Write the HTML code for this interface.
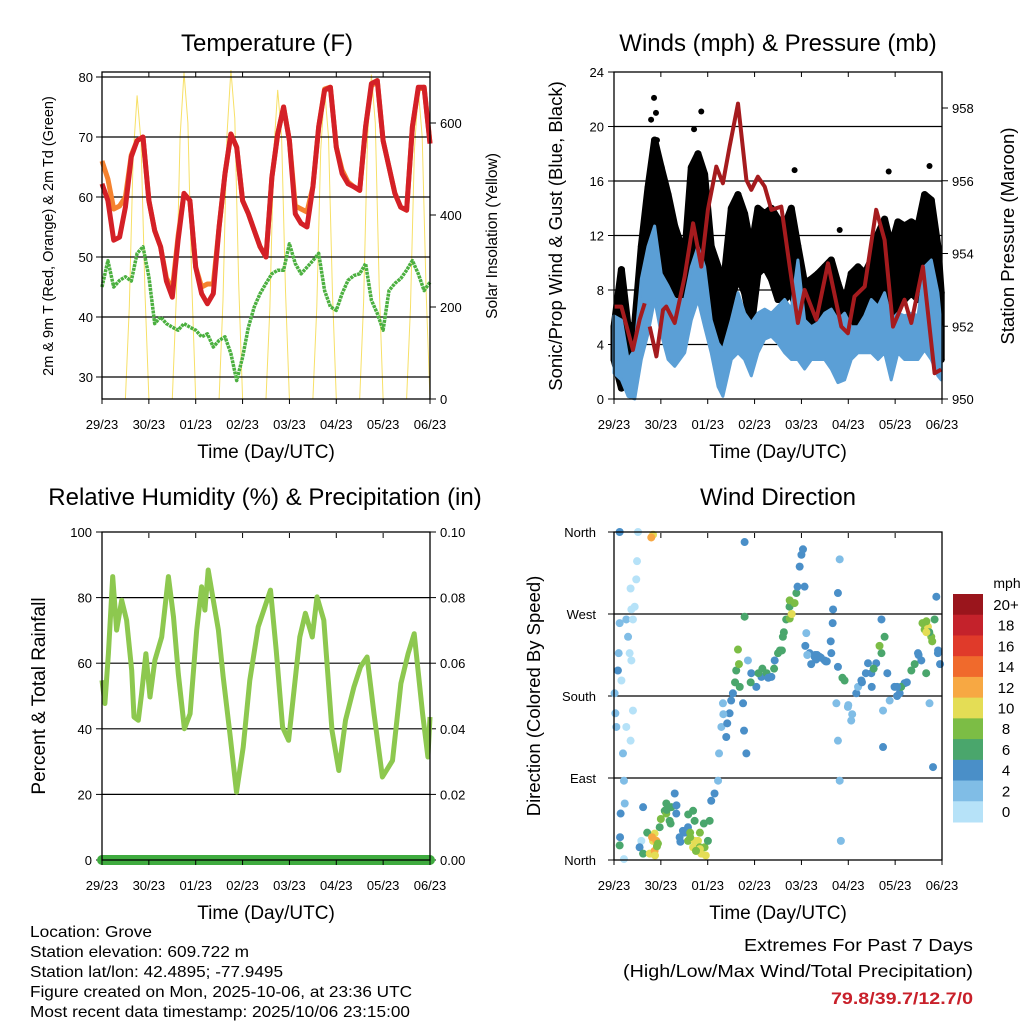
<!DOCTYPE html>
<html><head><meta charset="utf-8">
<style>
html,body{margin:0;padding:0;background:#fff;}
body{width:1024px;height:1024px;overflow:hidden;font-family:"Liberation Sans",sans-serif;}
svg text{font-family:"Liberation Sans",sans-serif;}
</style></head>
<body>
<svg id="root" width="1024" height="1024" viewBox="0 0 1024 1024" xmlns="http://www.w3.org/2000/svg"></svg>
<script>
// ---------- shared time axis ----------
const dayLabels = ["29/23","30/23","01/23","02/23","03/23","04/23","05/23","06/23"];

// ---------- temperature panel data (3-hourly, hours 0..168) ----------
const tempHours = [0,3,6,9,12,15,18,21,24,27,30,33,36,39,42,45,48,51,54,57,60,63,66,69,72,75,78,81,84,87,90,93,96,99,102,105,108,111,114,117,120,123,126,129,132,135,138,141,144,147,150,153,156,159,162,165,168];
const temp2m = [62.2,59.4,52.8,53.3,58.3,66.7,69.4,70,59.4,54.4,51.7,46,43.3,52.8,60.6,59.4,48.3,43.9,42.2,43.9,55,63.9,70.5,68.3,59.4,57.2,54.4,51.7,50,63.3,70.5,75,69.4,57.2,55.6,55,61.7,71.7,77.8,78.3,68.3,63.9,62.2,61.7,61.1,71.7,78.9,79.4,69.4,65,60.6,58.3,57.8,71.7,78.3,78.3,68.9];
const temp9m = [66,63,58,58.5,60,67,69.4,70,59.4,54.4,51.7,46.5,44.5,53.5,60.6,59.4,48.3,45,45.5,45.5,55,63.9,70.5,68.3,59.4,57.2,54.4,51.7,50,63.3,70.5,75,69.4,58.5,58,57.5,61.7,71.7,78,78.3,68.3,64.5,62.5,61.7,61.1,71.7,78.5,79.4,69.4,65,60.6,58.3,57.8,71.7,78,78.3,69];
const dewpoint = [45,49.4,45,46.1,46.7,46,50.6,51.7,46.7,38.9,40,38.9,38.3,37.8,38.9,38.3,37.8,36.7,37.2,35,36.1,36.7,33.9,29.4,33.3,38.3,41.7,43.9,45.6,47.2,47.8,47.8,52.2,48.9,47.2,48.3,49.4,50.6,44.4,41.7,41.1,43.9,46.1,46.9,47.2,48.9,42.8,40.6,37.8,44.4,45.6,46.4,47.8,49.4,47.2,44.4,45.8];
const solarHours = [];
for (let h = 0; h <= 168; h += 2) solarHours.push(h);
const solarValues = [
0,0,0,0,0,0,0,200,530,660,560,230,
0,0,0,0,0,0,0,215,570,710,600,250,
0,0,0,0,0,0,0,215,575,715,610,250,
0,0,0,0,0,0,0,200,540,672,570,235,
0,0,0,0,0,0,0,200,540,672,570,235,
0,0,0,0,0,0,0,210,565,705,600,245,
0,0,0,0,0,0,0,200,540,672,570,235,
0];
const tempTicks = [30,40,50,60,70,80];
const solarTicks = [0,200,400,600];

// ---------- winds panel data ----------
const presHours = [0,3.8,9.7,13.1,15.7,null,18.3,21.7,25.1,26.8,31.1,36.2,40.5,44.7,48.1,52.4,55.8,59.2,63.5,67.8,70.3,73.7,77.2,80.6,85.7,90.0,94.2,97.6,103.6,109.6,116.4,119.8,123.2,128.4,134.3,138.6,142.9,148.8,152.3,158.2,164.2,167.6];
const presValues = [952.54,952.54,951.35,952.18,952.63,null,951.99,951.17,952.45,952.54,952.09,953.37,954.83,953.64,955.2,956.39,955.93,956.94,958.12,956.02,955.75,956.11,955.84,955.2,955.29,953.64,952.09,953.0,952.18,953.73,951.99,951.81,952.82,953.09,955.2,954.37,951.99,952.73,952.09,953.64,950.71,950.81];
const windHours = [0,3.8,7.2,10.6,14.0,17.4,20.8,24.2,27.7,31.1,36.2,39.6,43.0,46.4,49.8,53.3,55.8,60.1,63.5,66.9,70.3,73.7,77.2,80.6,84.0,87.4,90.8,94.2,97.6,101.1,104.5,107.9,111.3,114.7,118.1,121.5,125.0,128.4,131.8,135.2,138.6,142.0,145.4,148.8,152.3,155.7,159.1,162.5,165.9,167.6];
const sonicHigh = [6.1,5.8,2.9,3.6,8.8,11.2,12.7,9.2,8.3,7.3,7.3,9.7,11.2,9.7,5.8,4.1,3.6,5.8,7.8,6.3,5.6,6.3,6.6,6.3,6.8,7.3,6.6,10.2,5.8,5.3,5.6,6.3,6.6,5.8,6.3,5.3,5.3,6.1,7.3,6.8,7.8,5.8,6.3,6.1,6.3,6.1,9.7,10.2,7.8,5.3];
const sonicLow = [1.9,1.4,0.2,0,2.9,4.8,7.3,4.8,2.9,2.4,3.4,5.8,7.3,5.3,3.4,0.9,0.2,2.9,3.4,2.9,1.7,3.4,4.4,4.6,4.1,3.4,2.9,2.9,2.2,2.9,2.9,2.9,2.2,1.2,1.4,2.9,3.4,3.4,3.4,2.9,3.4,1.4,3.4,2.9,2.9,2.9,3.6,2.9,1.7,1.4];
const gustHigh = [5.3,9.5,5.3,5.5,11.2,15.5,19.0,17.0,15.0,12.7,10.5,17.0,18.0,16.5,11.2,9.7,8.0,14.0,15.0,13.6,11.0,14.0,13.6,14.0,13.2,12.7,14.0,11.2,8.5,8.8,9.2,9.7,10.2,8.5,7.0,9.2,9.7,9.2,10.2,12.1,13.2,11.2,13.0,12.7,13.0,12.7,15.0,14.6,11.2,7.8];
const gustLow = [2.9,0.8,1.4,1.7,5.8,7.8,9.7,9.0,8.3,7.8,7.3,10.2,11.2,9.0,5.8,2.9,2.2,7.3,9.0,7.8,5.3,9.2,9.7,8.8,7.3,7.3,7.8,6.3,4.4,4.8,5.3,5.6,5.3,4.4,3.4,5.3,5.8,4.8,5.8,6.8,7.3,5.3,6.8,7.3,7.8,7.3,8.3,7.8,4.8,2.9];
const gustOutlierHours = [20.5,44.7,92.5,115.6,140.7,161.6,41.0,19.0,22.0,21.5];
const gustOutlierValues = [22.1,21.1,16.8,12.4,16.7,17.1,19.8,20.5,19.0,21.0];
const windTicks = [0,4,8,12,16,20,24];
const presTicks = [950,952,954,956,958];

// ---------- RH panel data ----------
const rhHours = [0,1.5,3.3,5.5,7.5,10.1,12.6,15.2,16.4,18.6,20.3,22.5,24.6,27.1,30.6,33.99,36.6,39.1,42.2,45.1,48.5,51.0,52.7,54.4,57.0,59.6,62.1,65.5,68.9,72.3,75.7,80.0,86.3,89.2,92.5,95.6,101.3,104.2,107.7,110.1,113.6,117.8,121.3,124.7,129.0,132.4,135.8,139.3,143.6,148.8,153.1,156.8,159.9,164.2,166.9,168];
const rhValues = [54.8,47.7,62.9,86.4,70.1,79.2,73.1,57.8,43.6,42.6,50.7,62.9,49.7,60.9,68.0,86.4,74.1,56.8,40.0,44.6,70.1,83.3,76.2,88.4,79.2,70.1,55.8,38.5,20.7,34.4,54.8,71.1,82.3,64.0,40.5,36.5,68.0,75.2,68.0,80.2,73.1,39.5,27.3,42.6,52.7,58.9,61.9,44.6,25.3,30.3,53.8,62.9,69.0,44.6,31.4,43.6];
const precipHours = [0,168];
const precipValues = [0,0];
const rhTicks = [0,20,40,60,80,100];
const precipTicks = ["0.00","0.02","0.04","0.06","0.08","0.10"];

// ---------- wind direction panel data ----------
const dirHours = [0.3,0.7,1.2,2.0,2.4,2.9,3.8,4.6,5.1,5.5,3.4,3.1,2.9,5.1,6.3,7.2,8.0,8.9,9.7,10.6,11.4,11.8,8.5,8.9,9.7,8.5,6.3,12.3,20.0,19.1,2.9,14.0,13.1,14.9,14.9,18.3,20.0,20.8,21.7,20.8,23.4,26.0,26.8,28.5,29.4,31.1,31.9,33.6,35.3,37.9,40.5,41.3,40.5,43.0,44.7,43.9,46.4,48.1,49.0,49.8,51.5,53.3,53.8,55.0,55.8,57.5,59.2,60.9,62.6,63.5,64.4,66.1,66.6,67.8,66.9,66.9,68.6,70.3,72.9,75.5,78.2,80.6,82.3,84.0,86.5,88.2,89.9,92.5,93.4,95.1,96.8,97.6,98.5,100.2,102.8,105.3,107.9,111.3,112.2,114.7,115.6,113.9,114.7,115.6,116.2,114.7,118.1,119.8,121.5,124.1,126.7,130.1,131.8,134.3,137.0,138.6,137.0,137.8,137.8,141.2,143.7,146.3,148.8,152.3,155.7,159.1,160.8,162.5,164.2,165.1,165.9,163.4,161.6,159.9,157.4,147.1,125.0,37.9,26.8,41.3,17.0,22.5,39.0,42.0,44.0,103.5,104.0,108.5,86.0,90.0,160.0,161.5,
21,22,19.5,24,27,29,32,34,36,38,39,42,44,46,47,56,58,60,62,64,70,74,76,79,82,85,87,90,91,94,99,101,103,106,109,111,112,117,120,122,127,129,133,136,140,145,150,154,156,158,160,163,166,167,145,132,98,96];
const dirDegrees = [183,161,146,208,227,260,197,117,87,62,51,25,16,1,264,245,227,275,264,278,308,328,298,219,164,131,146,360,357,354,360,21,14,58,7,7,21,29,21,10,36,54,62,43,58,73,51,25,32,36,54,43,14,21,7,14,14,21,43,65,73,87,117,146,172,135,161,183,208,231,190,172,142,117,267,349,219,205,190,201,205,201,219,227,245,264,278,282,293,322,341,300,249,227,223,223,219,227,275,293,330,172,131,87,21,212,197,168,153,183,197,216,205,216,227,245,264,164,124,175,190,183,194,208,227,253,256,245,264,289,227,102,172,205,219,190,190,21,51,21,30,18,25,10,12,220,225,218,230,285,262,250,
5,15,25,45,55,40,60,20,30,50,30,10,30,40,5,160,150,175,195,215,195,205,210,200,210,230,250,265,270,300,225,215,225,222,218,240,260,200,170,160,195,205,210,235,205,190,195,215,225,260,250,240,230,215,180,190,235,335];
const dirSpeeds = [3,2,3,4,3,2,1,2,2,2,4,4,6,0,2,2,1,1,1,1,0,1,0,1,1,1,0,0,10,12,4,1,4,4,6,10,11,10,12,13,7,6,7,6,7,4,4,4,5,4,7,7,11,10,10,9,8,7,6,4,5,2,2,2,2,4,4,4,6,8,6,4,4,4,6,4,3,4,4,5,6,5,4,6,6,6,6,9,6,4,4,4,3,4,4,5,4,4,4,4,3,3,3,3,3,4,6,2,2,4,4,4,4,5,6,6,4,3,4,2,4,4,4,6,5,8,10,9,6,4,4,4,2,6,4,6,2,8,8,10,7,9,8,10,11,4,4,4,6,9,8,6,
10,9,12,8,7,6,4,4,4,6,8,9,8,7,10,3,4,5,6,8,6,6,7,4,6,6,7,8,10,4,3,4,4,4,4,4,4,6,2,2,4,4,6,8,4,4,4,6,4,8,10,8,4,4,4,4,4,4];
const dirTickLabels = ["North","East","South","West","North"];
const speedBins = ["0","2","4","6","8","10","12","14","16","18","20+"];
const speedColors = ["#b6e2f8","#80bde6","#4a8fc8","#4aa66c","#7cbd45","#e4dd55","#f7a843","#f06a2c","#e03a2a","#c4222b","#9a151c"];

// ---------- helpers ----------
const NS = "http://www.w3.org/2000/svg";
const root = document.getElementById("root");
function mk(tag, attrs, parent) {
  const e = document.createElementNS(NS, tag);
  for (const k in attrs) e.setAttribute(k, attrs[k]);
  (parent || root).appendChild(e);
  return e;
}
function txt(str, x, y, size, anchor, parent, extra) {
  const t = mk("text", Object.assign({x: x, y: y, "font-size": size, "text-anchor": anchor || "middle", fill: "#000"}, extra || {}), parent);
  t.textContent = str;
  return t;
}
function scale(d0, d1, r0, r1) { return v => r0 + (v - d0) * (r1 - r0) / (d1 - d0); }
function pathD(xs, ys, fx, fy) {
  let d = "", pen = false;
  for (let i = 0; i < xs.length; i++) {
    if (xs[i] === null || ys[i] === null) { pen = false; continue; }
    d += (pen ? "L" : "M") + fx(xs[i]).toFixed(1) + "," + fy(ys[i]).toFixed(1);
    pen = true;
  }
  return d;
}
function bandD(xs, hi, lo, fx, fy) {
  let d = "";
  for (let i = 0; i < xs.length; i++) d += (i ? "L" : "M") + fx(xs[i]).toFixed(1) + "," + fy(hi[i]).toFixed(1);
  for (let i = xs.length - 1; i >= 0; i--) d += "L" + fx(xs[i]).toFixed(1) + "," + fy(lo[i]).toFixed(1);
  return d + "Z";
}
function timeAxis(g, fx, yBottom, labelY, titleY) {
  for (let i = 0; i < dayLabels.length; i++) {
    const x = fx(i * 24);
    const tk = mk("line", {x1: x, x2: x, y1: yBottom, y2: yBottom + 5, stroke: "#000", "stroke-width": 1}, g);
    
    
    const tt = mk("line", {x1: x, x2: x, y1: yBottom - 327, y2: yBottom - 322, stroke: "#000", "stroke-width": 1}, g);
    
    
    const lb = txt(dayLabels[i], x, labelY, 13, "middle", g);
    
    
  }
  const ti = txt("Time (Day/UTC)", (fx(0) + fx(168)) / 2, titleY, 19, "middle", g);
  
  
}
function frame(g, x0, y0, x1, y1) {
  const r = mk("rect", {x: x0, y: y0, width: x1 - x0, height: y1 - y0, fill: "none", stroke: "#000", "stroke-width": 1.3}, g);
  
  
}
function grid(g, y, x0, x1) {
  const l = mk("line", {x1: x0, x2: x1, y1: y, y2: y, stroke: "#000", "stroke-width": 1.2}, g);
  
  
}

// =============== PANEL 1: TEMPERATURE ===============
(function () {
  const g = mk("g", {});
  
  
  const X0 = 102, X1 = 430, Y0 = 72, Y1 = 399;
  const fx = scale(0, 168, X0, X1);
  const fy = scale(80, 30, 77, 377);
  const fs = scale(0, 600, 399, 123);
  const t = txt("Temperature (F)", 267, 51, 24, "middle", g);
  
  
  const ys = mk("path", {d: pathD(solarHours, solarValues, fx, fs), fill: "none", stroke: "#f7e067", "stroke-width": 1}, g);
  
  
  tempTicks.forEach(v => {
    grid(g, fy(v), X0, X1);
    const tk = mk("line", {x1: X0 - 6, x2: X0, y1: fy(v), y2: fy(v), stroke: "#000"}, g);
    
    
    const l = txt(String(v), X0 - 9, fy(v) + 5, 13, "end", g);
    
    
  });
  solarTicks.forEach(v => {
    const tk = mk("line", {x1: X1, x2: X1 + 6, y1: fs(v), y2: fs(v), stroke: "#000"}, g);
    
    
    const l = txt(String(v), X1 + 10, fs(v) + 5, 13, "start", g);
    
    
  });
  const dp = mk("path", {d: pathD(tempHours, dewpoint, fx, fy), fill: "none", stroke: "#4cb040", "stroke-width": 3.5, "stroke-dasharray": "3,0.8", "stroke-linejoin": "round"}, g);
  
  
  const o = mk("path", {d: pathD(tempHours, temp9m, fx, fy), fill: "none", stroke: "#f5822e", "stroke-width": 5, "stroke-linejoin": "round"}, g);
  
  
  const r = mk("path", {d: pathD(tempHours, temp2m, fx, fy), fill: "none", stroke: "#d42027", "stroke-width": 5, "stroke-linejoin": "round"}, g);
  
  
  frame(g, X0, Y0, X1, Y1);
  timeAxis(g, fx, Y1, 429, 458);
  const yl = txt("2m & 9m T (Red, Orange) & 2m Td (Green)", 0, 0, 14.5, "middle", g, {transform: "translate(53,236) rotate(-90)"});
  
  
  const yr = txt("Solar Insolation (Yellow)", 0, 0, 15.5, "middle", g, {transform: "translate(497,236) rotate(-90)"});
  
  
})();

// =============== PANEL 2: WINDS & PRESSURE ===============
(function () {
  const g = mk("g", {});
  
  
  const X0 = 614, X1 = 942, Y0 = 72, Y1 = 399;
  const fx = scale(0, 168, X0, X1);
  const fy = scale(0, 24, 399, 72);
  const fp = scale(950, 958, 399, 108);
  const t = txt("Winds (mph) & Pressure (mb)", 778, 51, 24, "middle", g);
  
  
  windTicks.forEach(v => {
    if (v > 0 && v < 24) grid(g, fy(v), X0, X1);
    const tk = mk("line", {x1: X0 - 6, x2: X0, y1: fy(v), y2: fy(v), stroke: "#000"}, g);
    
    
    const l = txt(String(v), X0 - 10, fy(v) + 5, 13, "end", g);
    
    
  });
  presTicks.forEach(v => {
    const tk = mk("line", {x1: X1, x2: X1 + 6, y1: fp(v), y2: fp(v), stroke: "#000"}, g);
    
    
    const l = txt(String(v), X1 + 10, fp(v) + 5, 13, "start", g);
    
    
  });
  const gb = mk("path", {d: bandD(windHours, gustHigh, gustLow, fx, fy), fill: "#000", stroke: "#000", "stroke-width": 7, "stroke-linejoin": "round"}, g);
  
  
  for (let i = 0; i < windHours.length; i++) {
    [gustHigh[i], gustLow[i]].forEach(v => {
      const c = mk("circle", {cx: fx(windHours[i]), cy: fy(v), r: 3.5, fill: "#000"}, g);
      
      
    });
  }
  for (let i = 0; i < gustOutlierHours.length; i++) {
    const c = mk("circle", {cx: fx(gustOutlierHours[i]), cy: fy(gustOutlierValues[i]), r: 3, fill: "#000"}, g);
    
    
  }
  const sb = mk("path", {d: bandD(windHours, sonicHigh, sonicLow, fx, fy), fill: "#5b9fd6", stroke: "#5b9fd6", "stroke-width": 3, "stroke-linejoin": "round"}, g);
  
  
  const p = mk("path", {d: pathD(presHours, presValues, fx, fp), fill: "none", stroke: "#a51b1e", "stroke-width": 4, "stroke-linejoin": "round"}, g);
  
  
  frame(g, X0, Y0, X1, Y1);
  timeAxis(g, fx, Y1, 429, 458);
  const yl = txt("Sonic/Prop Wind & Gust (Blue, Black)", 0, 0, 18.5, "middle", g, {transform: "translate(562,236) rotate(-90)"});
  
  
  const yr = txt("Station Pressure (Maroon)", 0, 0, 18.5, "middle", g, {transform: "translate(1014,236) rotate(-90)"});
  
  
})();

// =============== PANEL 3: RH & PRECIP ===============
(function () {
  const g = mk("g", {});
  
  
  const X0 = 102, X1 = 430, Y0 = 532, Y1 = 860;
  const fx = scale(0, 168, X0, X1);
  const fy = scale(0, 100, 860, 532);
  const fr = scale(0, 0.1, 860, 532);
  const t = txt("Relative Humidity (%) & Precipitation (in)", 265, 505, 24, "middle", g);
  
  
  rhTicks.forEach(v => {
    if (v > 0 && v < 100) grid(g, fy(v), X0, X1);
    const tk = mk("line", {x1: X0 - 6, x2: X0, y1: fy(v), y2: fy(v), stroke: "#000"}, g);
    
    
    const l = txt(String(v), X0 - 10, fy(v) + 5, 13, "end", g);
    
    
  });
  precipTicks.forEach(s => {
    const v = parseFloat(s);
    const tk = mk("line", {x1: X1, x2: X1 + 6, y1: fr(v), y2: fr(v), stroke: "#000"}, g);
    
    
    const l = txt(s, X1 + 10, fr(v) + 5, 13, "start", g);
    
    
  });
  const rh = mk("path", {d: pathD(rhHours, rhValues, fx, fy), fill: "none", stroke: "#8dc84f", "stroke-width": 5, "stroke-linejoin": "round"}, g);
  
  
  const pr = mk("path", {d: pathD(precipHours, precipValues, fx, fr), fill: "none", stroke: "#3fab3f", "stroke-width": 10, "stroke-linecap": "round"}, g);
  
  
  frame(g, X0, Y0, X1, Y1);
  timeAxis(g, fx, Y1, 890, 919);
  const yl = txt("Percent & Total Rainfall", 0, 0, 19, "middle", g, {transform: "translate(45,696) rotate(-90)"});
  
  
})();

// =============== PANEL 4: WIND DIRECTION ===============
(function () {
  const g = mk("g", {});
  
  
  const X0 = 614, X1 = 942, Y0 = 532, Y1 = 860;
  const fx = scale(0, 168, X0, X1);
  const fy = scale(0, 360, 860, 532);
  const t = txt("Wind Direction", 778, 505, 24, "middle", g);
  
  
  dirTickLabels.forEach((s, i) => {
    const y = fy(i * 90);
    if (i > 0 && i < 4) grid(g, y, X0, X1);
    const tk = mk("line", {x1: X0 - 6, x2: X0, y1: y, y2: y, stroke: "#000"}, g);
    
    
    const l = txt(s, X0 - 18, y + 5, 13, "end", g);
    
    
  });
  for (let i = 0; i < dirHours.length; i++) {
    const bin = Math.min(10, Math.floor(dirSpeeds[i] / 2));
    const c = mk("circle", {cx: fx(dirHours[i]), cy: fy(dirDegrees[i]), r: 4, fill: speedColors[bin]}, g);
    
    
  }
  frame(g, X0, Y0, X1, Y1);
  timeAxis(g, fx, Y1, 890, 919);
  const yl = txt("Direction (Colored By Speed)", 0, 0, 18.5, "middle", g, {transform: "translate(540,696) rotate(-90)"});
  
  
  const cb = mk("g", {}, g);
  
  
  const boxH = (822 - 594) / speedBins.length;
  const u = txt("mph", 1007, 588, 14, "middle", cb);
  
  
  for (let i = 0; i < speedBins.length; i++) {
    const k = speedBins.length - 1 - i;
    const y = 594 + i * boxH;
    const r = mk("rect", {x: 953, y: y, width: 30, height: boxH + 0.5, fill: speedColors[k]}, cb);
    
    
    const l = txt(speedBins[k], 1006, y + boxH / 2 + 5.5, 15, "middle", cb);
    
    
  }
})();

// =============== FOOTER TEXT ===============
(function () {
  const g = mk("g", {});
  
  
  const lines = ["Location: Grove","Station elevation: 609.722 m","Station lat/lon: 42.4895; -77.9495","Figure created on Mon, 2025-10-06, at 23:36 UTC","Most recent data timestamp: 2025/10/06 23:15:00"];
  const widths = [122, 219, 253, 382, 380];
  lines.forEach((s, i) => {
    const t = txt(s, 30, 937 + i * 20, 16, "start", g, {textLength: widths[i], lengthAdjust: "spacingAndGlyphs"});
    
    
  });
  const e = mk("g", {});
  
  
  const a = txt("Extremes For Past 7 Days", 973, 951, 17.5, "end", e, {textLength: 229, lengthAdjust: "spacingAndGlyphs"});
  
  
  const b = txt("(High/Low/Max Wind/Total Precipitation)", 973, 977, 17.5, "end", e, {textLength: 350, lengthAdjust: "spacingAndGlyphs"});
  
  
  const c = txt("79.8/39.7/12.7/0", 973, 1004, 17, "end", e, {style: "fill:#c8202a;font-weight:bold", textLength: 142, lengthAdjust: "spacingAndGlyphs"});
  
  
})();
</script>
</body></html>
